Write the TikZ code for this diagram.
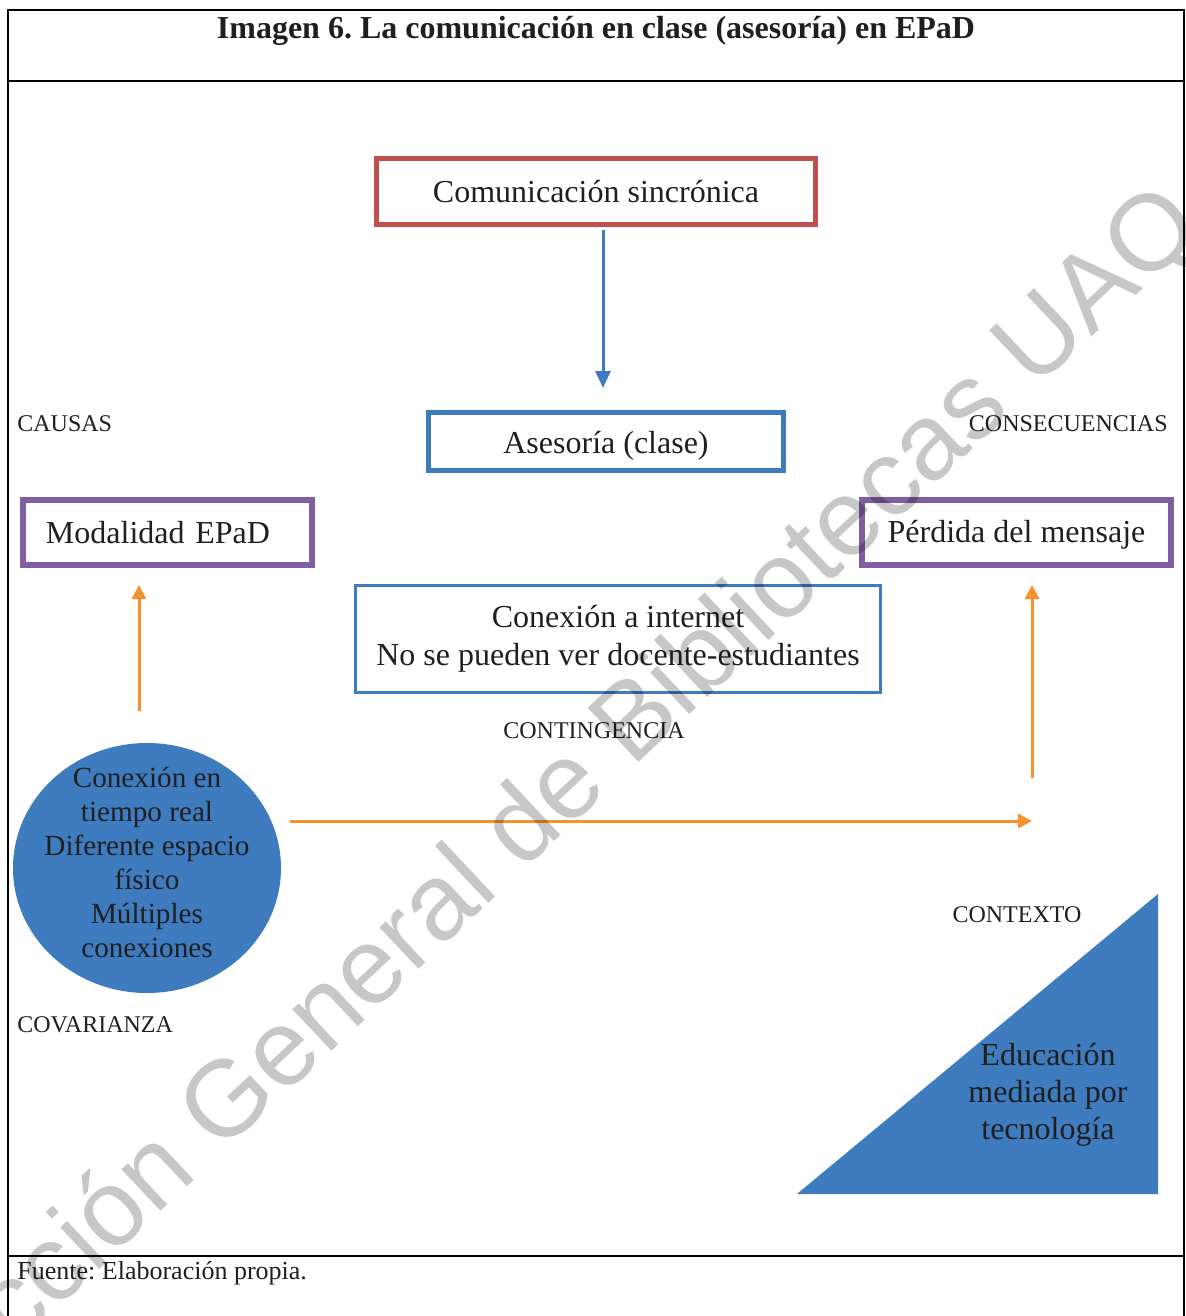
\documentclass[tikz,border=0pt]{standalone}
\usepackage{fontspec}
\setmainfont{Liberation Serif}
\newfontfamily\wmfont{Liberation Sans}
\usetikzlibrary{arrows.meta,shapes.geometric}
\definecolor{boxred}{HTML}{C0504D}
\definecolor{boxblue}{HTML}{3E7BBF}
\definecolor{boxpurple}{HTML}{7F5FA1}
\definecolor{arrorange}{HTML}{F5912F}
\frenchspacing

\begin{document}
\begin{tikzpicture}[x=0.5pt, y=-0.5pt,
  every node/.style = {inner sep=0pt, text=black!88},
  box/.style = {shape=rectangle, draw, align=center,
    font=\fontsize{16}{19}\selectfont},
  tag/.style = {font=\fontsize{12}{14}\selectfont},
  bluearrow/.style = {draw=boxblue, line width=1.5pt,
    -{Triangle[length=8.5pt,width=7.5pt]}},
  orangearrow/.style = {draw=arrorange, line width=1.5pt,
    -{Triangle[length=7pt,width=7pt]}}]
  \useasboundingbox (0,0) rectangle (1186,1316);
  \draw[line width=1pt] (8,1316) -- (8,10) -- (1184,10) -- (1184,1316);
  \draw[line width=1pt] (8,81) -- (1184,81) (8,1256) -- (1184,1256);
  \node (titulo) at (596,31)
    {\fontsize{16}{19}\selectfont\bfseries Imagen 6. La comunicación en clase (asesoría) en EPaD};

  \node[box, draw=boxred, line width=2.5pt, minimum width=219.5pt, minimum height=33pt]
    (sincronica) at (596,192) {Comunicación sincrónica};
  \node[box, draw=boxblue, line width=2.5pt, minimum width=177.5pt, minimum height=29pt,
    text height=15pt, text depth=3.5pt]
    (asesoria) at (606,441.5) {Asesoría (clase)};
  \node[box, draw=boxpurple, line width=3pt, minimum height=32.5pt,
    text width=121.5pt, inner xsep=11.5pt, align=left]
    (modalidad) at (167.5,532.5) {Modalidad EPaD};
  \node[box, draw=boxpurple, line width=3pt, minimum width=154.5pt, minimum height=32.5pt,
    text height=14pt, text depth=3.6pt]
    (perdida) at (1016.5,532.5) {Pérdida del mensaje};
  \node[box, draw=boxblue, line width=1.5pt, minimum width=262.5pt, minimum height=53.5pt]
    (conexion) at (618,639) {Conexión a internet\\No se pueden ver docente-estudiantes};
  \node[shape=ellipse, fill=boxblue, minimum width=134pt, minimum height=125pt,
    font=\fontsize{14.6}{17}\selectfont]
    (tiempo) at (147,868) {\makebox[0pt]{\smash{\raisebox{-1pt}{\parbox[c]{110pt}{\centering
      Conexión en\\tiempo real\\Diferente espacio\\físico\\Múltiples\\conexiones}}}}};

  \fill[boxblue] (797,1194) -- (1158,1194) -- (1158,894) -- cycle;
  \node[align=center, font=\fontsize{16}{18.5}\selectfont]
    (educacion) at (1048,1095) {Educación\\mediada por\\tecnología};

  \node[tag, anchor=west] (causas) at (17,424) {CAUSAS};
  \node[tag, anchor=east] (consecuencias) at (1168,424) {CONSECUENCIAS};
  \node[tag] (contingencia) at (594,731) {CONTINGENCIA};
  \node[tag, anchor=west] (covarianza) at (17,1025) {COVARIANZA};
  \node[tag] (contexto) at (1017,915) {CONTEXTO};
  \node[anchor=west, font=\fontsize{13}{15}\selectfont] (fuente) at (17,1273)
    {Fuente: Elaboración propia.};

  \coordinate (destino) at (1032,821);
  \draw[bluearrow, shorten <=1.5pt, shorten >=11pt]
    ([xshift=3.5pt]sincronica.south) -- ([xshift=3.5pt]sincronica.south |- asesoria.north);
  \draw[orangearrow, shorten <=16pt, shorten >=8.5pt]
    ([xshift=-4pt]tiempo.north) -- ([xshift=-4pt]tiempo.north |- modalidad.south);
  \draw[orangearrow, shorten <=4.5pt] (tiempo.east |- destino) -- (destino);
  \draw[orangearrow, shorten <=21.5pt, shorten >=8.5pt] (destino) -- (destino |- perdida.south);

  \node[rotate=43.2, anchor=base east, text=black, opacity=0.22,
    font=\wmfont\fontsize{54}{54}\selectfont]
    (marca) at (1206,230) {Dirección General de Bibliotecas UAQ};
\end{tikzpicture}
\end{document}
